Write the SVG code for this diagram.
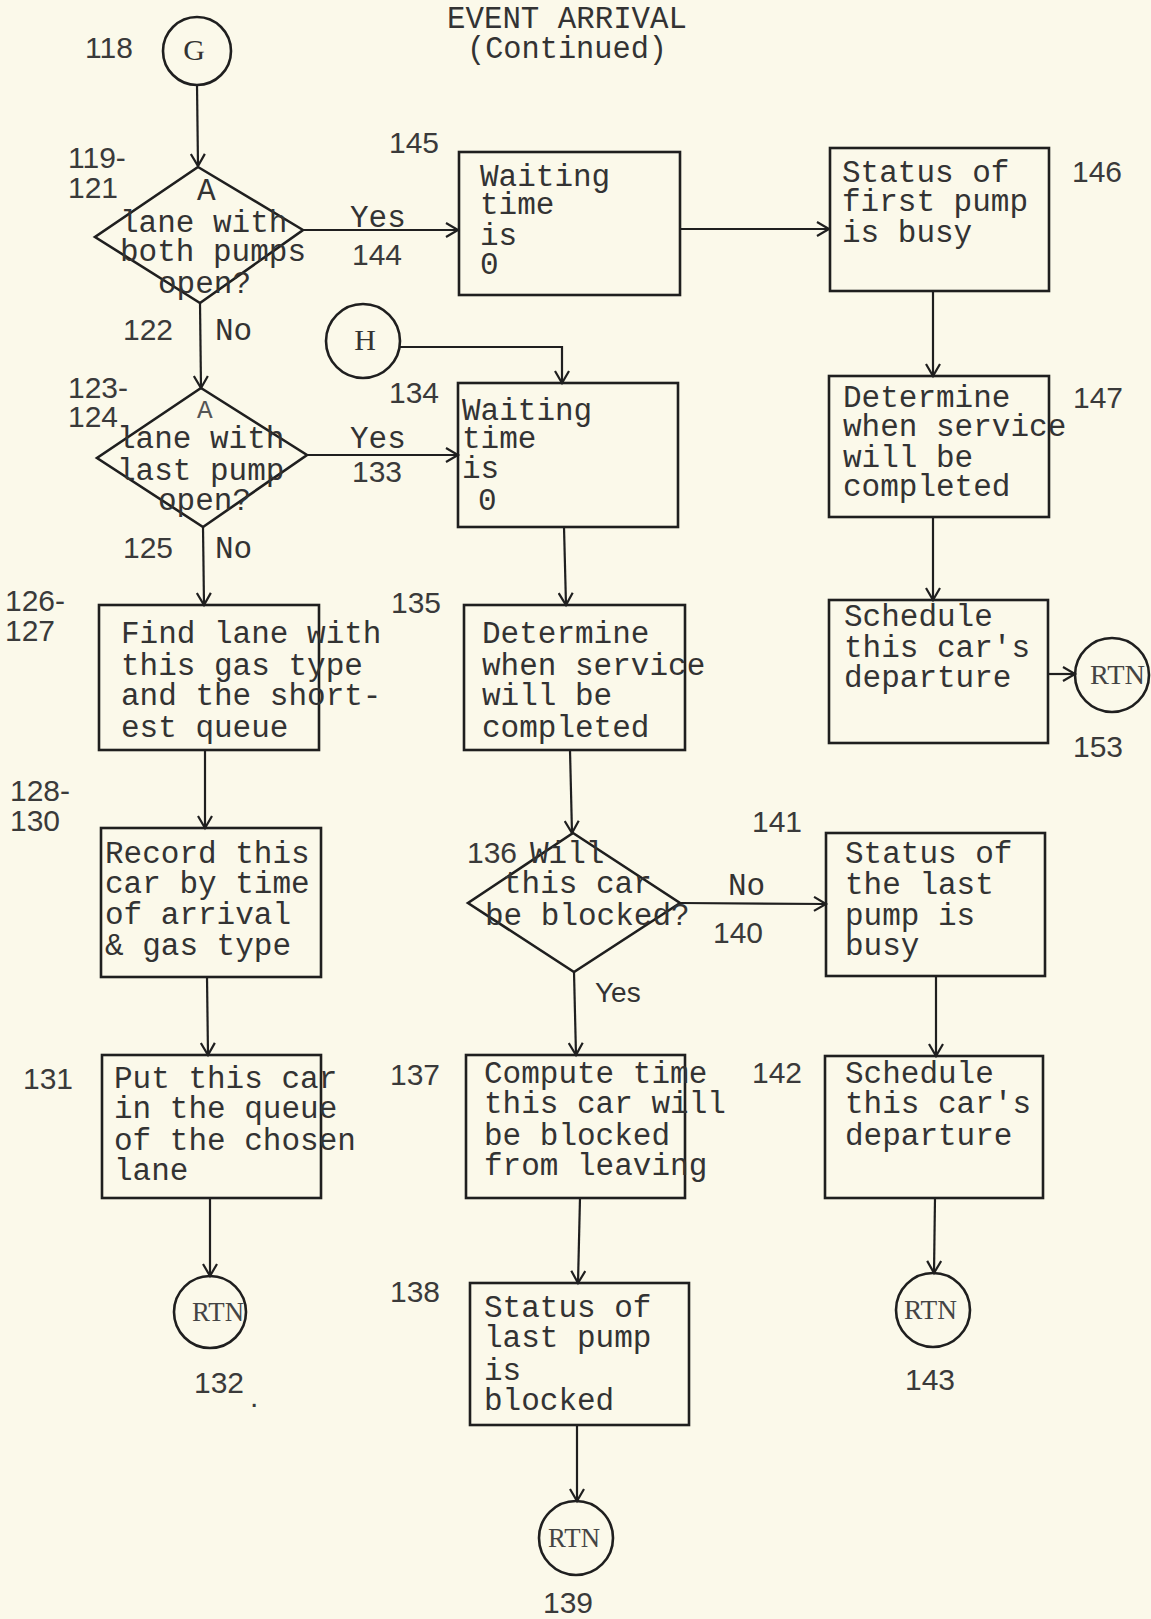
<svg xmlns="http://www.w3.org/2000/svg" width="1151" height="1619" viewBox="0 0 1151 1619">
<defs>
<style>
.bg{fill:#FBF9EA}
.box{fill:none;stroke:#1f1f1f;stroke-width:2.6}
.dia{fill:none;stroke:#1f1f1f;stroke-width:2.6}
.cir{fill:none;stroke:#1f1f1f;stroke-width:2.6}
.ln{fill:none;stroke:#1f1f1f;stroke-width:2.2}
.t{font-family:"Liberation Mono",monospace;font-size:31px;fill:#333}
.ta{font-family:"Liberation Mono",monospace;font-size:26px;fill:#555}
.n{font-family:"Liberation Sans",Arial,sans-serif;font-size:30px;fill:#3a3a3a}
.ys{font-family:"Liberation Sans",Arial,sans-serif;font-size:28px;fill:#333}
.r{font-family:"Liberation Serif",serif;font-size:27px;fill:#444}
.c{font-family:"Liberation Serif",serif;font-size:30px;fill:#333;text-anchor:middle}
</style>
<marker id="arr" markerUnits="userSpaceOnUse" markerWidth="16" markerHeight="16" refX="13" refY="8" orient="auto">
<path d="M1,1 L13,8 L1,15" fill="none" stroke="#1f1f1f" stroke-width="2.2"/>
</marker>
</defs>
<rect class="bg" x="0" y="0" width="1151" height="1619"/>

<g id="title">
<text class="t"><tspan x="447" y="28" textLength="240" lengthAdjust="spacingAndGlyphs">EVENT ARRIVAL</tspan><tspan x="467" y="58" textLength="200" lengthAdjust="spacingAndGlyphs">(Continued)</tspan></text>
</g>

<g id="connectors">
<path class="ln" d="M197,85 L198,166" marker-end="url(#arr)"/>
<path class="ln" d="M303,230 L458,230" marker-end="url(#arr)"/>
<path class="ln" d="M680,229 L829,229" marker-end="url(#arr)"/>
<path class="ln" d="M200,303 L201,388" marker-end="url(#arr)"/>
<path class="ln" d="M400,347 L562,347 L562,383" marker-end="url(#arr)"/>
<path class="ln" d="M307,455 L458,455" marker-end="url(#arr)"/>
<path class="ln" d="M203,527 L204,605" marker-end="url(#arr)"/>
<path class="ln" d="M564,527 L566,605" marker-end="url(#arr)"/>
<path class="ln" d="M933,291 L933,376" marker-end="url(#arr)"/>
<path class="ln" d="M933,517 L933,600" marker-end="url(#arr)"/>
<path class="ln" d="M1048,674 L1075,674" marker-end="url(#arr)"/>
<path class="ln" d="M205,750 L205,828" marker-end="url(#arr)"/>
<path class="ln" d="M570,750 L572,833" marker-end="url(#arr)"/>
<path class="ln" d="M680,903 L826,904" marker-end="url(#arr)"/>
<path class="ln" d="M574,972 L576,1055" marker-end="url(#arr)"/>
<path class="ln" d="M936,976 L936,1056" marker-end="url(#arr)"/>
<path class="ln" d="M207,977 L208,1055" marker-end="url(#arr)"/>
<path class="ln" d="M210,1198 L210,1276" marker-end="url(#arr)"/>
<path class="ln" d="M580,1198 L578,1283" marker-end="url(#arr)"/>
<path class="ln" d="M577,1425 L577,1501" marker-end="url(#arr)"/>
<path class="ln" d="M935,1198 L934,1273" marker-end="url(#arr)"/>
</g>

<g id="labels">
<text class="t" x="350" y="227">Yes</text>
<text class="t" x="215" y="340">No</text>
<text class="t" x="350" y="448">Yes</text>
<text class="t" x="215" y="558">No</text>
<text class="t" x="728" y="895">No</text>
<text class="ys" x="595" y="1002">Yes</text>
<text class="n" x="85" y="58">118</text>
<text class="n"><tspan x="68" y="168">119-</tspan><tspan x="68" y="198">121</tspan></text>
<text class="n" x="389" y="153">145</text>
<text class="n" x="352" y="265">144</text>
<text class="n" x="123" y="340">122</text>
<text class="n"><tspan x="68" y="398">123-</tspan><tspan x="68" y="427">124</tspan></text>
<text class="n" x="352" y="482">133</text>
<text class="n" x="389" y="403">134</text>
<text class="n" x="123" y="558">125</text>
<text class="n" x="391" y="613">135</text>
<text class="n" x="1072" y="182">146</text>
<text class="n" x="1073" y="408">147</text>
<text class="n" x="1073" y="757">153</text>
<text class="n"><tspan x="5" y="611">126-</tspan><tspan x="5" y="641">127</tspan></text>
<text class="n"><tspan x="10" y="801">128-</tspan><tspan x="10" y="831">130</tspan></text>
<text class="n" x="23" y="1089">131</text>
<text class="n" x="390" y="1085">137</text>
<text class="n" x="390" y="1302">138</text>
<text class="n" x="194" y="1393">132</text>
<text class="n" x="250" y="1407">.</text>
<text class="n" x="543" y="1613">139</text>
<text class="n" x="752" y="832">141</text>
<text class="n" x="713" y="943">140</text>
<text class="n" x="752" y="1083">142</text>
<text class="n" x="905" y="1390">143</text>
</g>

<g id="node-G">
<circle class="cir" cx="197" cy="51" r="34"/>
<text class="c" x="194" y="60">G</text>
</g>
<g id="node-H">
<circle class="cir" cx="363" cy="341" r="37"/>
<text class="c" x="365" y="350">H</text>
</g>

<g id="node-119">
<polygon class="dia" points="198,167 303,230 200,303 95,237"/>
<text class="t"><tspan x="197" y="200">A</tspan><tspan x="120" y="232">lane with</tspan><tspan x="120" y="261">both pumps</tspan><tspan x="158" y="293">open?</tspan></text>
</g>

<g id="node-123">
<polygon class="dia" points="201,388 307,455 203,527 97,458"/>
<text class="t"><tspan class="ta" x="197" y="418">A</tspan><tspan x="117" y="448">lane with</tspan><tspan x="117" y="480">last pump</tspan><tspan x="158" y="510">open?</tspan></text>
</g>

<g id="node-136">
<polygon class="dia" points="573,833 680,903 574,972 468,903"/>
<text class="t"><tspan class="n" x="467" y="863">136</tspan><tspan x="530" y="863">Will</tspan><tspan x="503" y="893">this car</tspan><tspan x="485" y="925">be blocked?</tspan></text>
</g>

<g id="node-145">
<rect class="box" x="459" y="152" width="221" height="143"/>
<text class="t"><tspan x="480" y="186">Waiting</tspan><tspan x="480" y="214">time</tspan><tspan x="480" y="245">is</tspan><tspan x="480" y="274">0</tspan></text>
</g>

<g id="node-134">
<rect class="box" x="458" y="383" width="220" height="144"/>
<text class="t"><tspan x="462" y="420">Waiting</tspan><tspan x="462" y="448">time</tspan><tspan x="462" y="478">is</tspan><tspan x="478" y="510">0</tspan></text>
</g>

<g id="node-146">
<rect class="box" x="830" y="148" width="219" height="143"/>
<text class="t"><tspan x="842" y="182">Status of</tspan><tspan x="842" y="211">first pump</tspan><tspan x="842" y="242">is busy</tspan></text>
</g>

<g id="node-147">
<rect class="box" x="829" y="376" width="220" height="141"/>
<text class="t"><tspan x="843" y="407">Determine</tspan><tspan x="843" y="436">when service</tspan><tspan x="843" y="467">will be</tspan><tspan x="843" y="496">completed</tspan></text>
</g>

<g id="node-148">
<rect class="box" x="829" y="600" width="219" height="143"/>
<text class="t"><tspan x="844" y="626">Schedule</tspan><tspan x="844" y="657">this car's</tspan><tspan x="844" y="687">departure</tspan></text>
</g>

<g id="node-153">
<circle class="cir" cx="1112" cy="675" r="37"/>
<text class="r" x="1090" y="684" textLength="55" lengthAdjust="spacingAndGlyphs">RTN</text>
</g>

<g id="node-126">
<rect class="box" x="99" y="605" width="220" height="145"/>
<text class="t"><tspan x="121" y="643">Find lane with</tspan><tspan x="121" y="675">this gas type</tspan><tspan x="121" y="705">and the short-</tspan><tspan x="121" y="737">est queue</tspan></text>
</g>

<g id="node-135">
<rect class="box" x="464" y="605" width="221" height="145"/>
<text class="t"><tspan x="482" y="643">Determine</tspan><tspan x="482" y="675">when service</tspan><tspan x="482" y="705">will be</tspan><tspan x="482" y="737">completed</tspan></text>
</g>

<g id="node-128">
<rect class="box" x="101" y="828" width="220" height="149"/>
<text class="t"><tspan x="105" y="863">Record this</tspan><tspan x="105" y="893">car by time</tspan><tspan x="105" y="924">of arrival</tspan><tspan x="105" y="955">&amp; gas type</tspan></text>
</g>

<g id="node-141">
<rect class="box" x="826" y="833" width="219" height="143"/>
<text class="t"><tspan x="845" y="863">Status of</tspan><tspan x="845" y="894">the last</tspan><tspan x="845" y="925">pump is</tspan><tspan x="845" y="955">busy</tspan></text>
</g>

<g id="node-131">
<rect class="box" x="102" y="1055" width="219" height="143"/>
<text class="t"><tspan x="114" y="1088">Put this car</tspan><tspan x="114" y="1118">in the queue</tspan><tspan x="114" y="1150">of the chosen</tspan><tspan x="114" y="1180">lane</tspan></text>
</g>

<g id="node-137">
<rect class="box" x="466" y="1055" width="219" height="143"/>
<text class="t"><tspan x="484" y="1083">Compute time</tspan><tspan x="484" y="1113">this car will</tspan><tspan x="484" y="1145">be blocked</tspan><tspan x="484" y="1175">from leaving</tspan></text>
</g>

<g id="node-142">
<rect class="box" x="825" y="1056" width="218" height="142"/>
<text class="t"><tspan x="845" y="1083">Schedule</tspan><tspan x="845" y="1113">this car's</tspan><tspan x="845" y="1145">departure</tspan></text>
</g>

<g id="node-138">
<rect class="box" x="470" y="1283" width="219" height="142"/>
<text class="t"><tspan x="484" y="1317">Status of</tspan><tspan x="484" y="1347">last pump</tspan><tspan x="484" y="1380">is</tspan><tspan x="484" y="1410">blocked</tspan></text>
</g>

<g id="node-132">
<circle class="cir" cx="210" cy="1312" r="36"/>
<text class="r" x="192" y="1321" textLength="52" lengthAdjust="spacingAndGlyphs">RTN</text>
</g>

<g id="node-143">
<circle class="cir" cx="933" cy="1310" r="37"/>
<text class="r" x="904" y="1319" textLength="53" lengthAdjust="spacingAndGlyphs">RTN</text>
</g>

<g id="node-139">
<circle class="cir" cx="576" cy="1538" r="37"/>
<text class="r" x="548" y="1547" textLength="52" lengthAdjust="spacingAndGlyphs">RTN</text>
</g>
</svg>
